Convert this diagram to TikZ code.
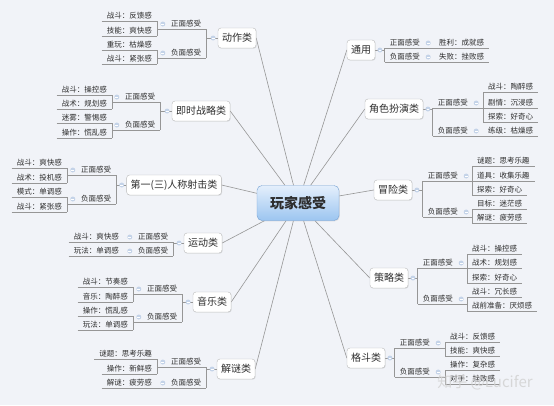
\documentclass[tikz,border=0pt]{standalone}
\usepackage{fontspec}
\usepackage{xcolor}
\usepackage{tikz}
\usetikzlibrary{shadows}
\newfontfamily\cjk{Noto Sans CJK SC}
\definecolor{bgpage}{RGB}{241,243,248}
\definecolor{linegray}{RGB}{150,150,150}
\definecolor{txtgray}{RGB}{45,45,45}
\definecolor{dotblue}{RGB}{196,211,232}
\definecolor{ctrtop}{RGB}{228,239,252}
\definecolor{ctrbot}{RGB}{156,197,240}
\definecolor{ctrline}{RGB}{118,162,212}
\pgfdeclarelayer{bg}
\pgfsetlayers{bg,main}
\tikzset{
	lnk/.style={draw=linegray, line width=0.6pt},
	dot/.style={circle, fill=dotblue, inner sep=0pt, minimum size=5pt,
		path picture={\draw[white, line width=0.6pt] ([xshift=-1.4pt]path picture bounding box.center) -- ([xshift=1.4pt]path picture bounding box.center);}},
	feel/.style={font=\cjk\fontsize{7.5}{9}\selectfont, text=txtgray, inner xsep=5pt, inner ysep=1.5pt, text height=6.2pt, text depth=1.3pt},
	leaf/.style={feel, append after command={(\tikzlastnode.south west) edge[lnk] (\tikzlastnode.south east)}},
	leafL/.style={leaf, anchor=east},
	leafR/.style={leaf, anchor=west},
	subL/.style={feel, anchor=west, label={[dot, label distance=0.5pt]west:}},
	subR/.style={feel, anchor=east, label={[dot, label distance=0.5pt]east:}},
	topic/.style={font=\cjk\fontsize{10}{12}\selectfont, text=txtgray, draw=gray!55, fill=white, rounded corners=3pt, inner xsep=4pt, minimum height=20pt,
		drop shadow={shadow xshift=0.7pt, shadow yshift=-0.7pt, opacity=0.2}},
	topicL/.style={topic, label={[dot, label distance=2pt]west:}},
	topicR/.style={topic, label={[dot, label distance=2pt]east:}},
	centre/.style={font=\cjk\fontsize{14}{16}\selectfont\bfseries, text=txtgray, top color=ctrtop, bottom color=ctrbot, draw=ctrline, rounded corners=5pt,
		minimum width=82pt, minimum height=35pt, drop shadow={shadow xshift=0.8pt, shadow yshift=-0.8pt, opacity=0.2}}
}

\begin{document}
\begin{tikzpicture}[x=1pt,y=-1pt]
		\useasboundingbox (0,0) rectangle (554,405);
		\begin{pgfonlayer}{bg}
			\fill[bgpage] (0,0) rectangle (554,405);
		\end{pgfonlayer}

		% centre
		\node at (298,203) (ctr) [centre] {玩家感受};

		% 动作类
		\node at (237,38) (tA) [topicL] {动作类};
		\node at (166,24) (dzP) [subL] {正面感受};
		\node at (166,53) (dzN) [subL] {负面感受};
		\foreach \y/\txt [count=\i] in {16/战斗：反馈感,31/技能：爽快感,45/重玩：枯燥感,59/战斗：紧张感}{
			\node at (157,\y) (dz\i) [leafL] {\txt};
		}

		% 即时战略类
		\node at (201,111) (tB) [topicL] {即时战略类};
		\node at (120,97) (zlP) [subL] {正面感受};
		\node at (120,125) (zlN) [subL] {负面感受};
		\foreach \y/\txt [count=\i] in {90/战斗：操控感,104/战术：规划感,118/迷雾：警惕感,133/操作：慌乱感}{
			\node at (112,\y) (zl\i) [leafL] {\txt};
		}

		% 第一(三)人称射击类
		\node at (174,185) (tC) [topicL] {第一(三)人称射击类};
		\node at (76,170) (sjP) [subL] {正面感受};
		\node at (76,199) (sjN) [subL] {负面感受};
		\foreach \y/\txt [count=\i] in {163/战斗：爽快感,178/战术：投机感,192/模式：单调感,207/战斗：紧张感}{
			\node at (67,\y) (sj\i) [leafL] {\txt};
		}

		% 运动类
		\node at (203,243) (tD) [topicL] {运动类};
		\node at (133,237) (ydP) [subL] {正面感受};
		\node at (133,251) (ydN) [subL] {负面感受};
		\node at (124,237) (yd1) [leafL] {战斗：爽快感};
		\node at (124,251) (yd2) [leafL] {玩法：单调感};

		% 音乐类
		\node at (212,302) (tE) [topicL] {音乐类};
		\node at (142,289) (yyP) [subL] {正面感受};
		\node at (142,317) (yyN) [subL] {负面感受};
		\foreach \y/\txt [count=\i] in {282/战斗：节奏感,297/音乐：陶醉感,311/操作：慌乱感,325/玩法：单调感}{
			\node at (133,\y) (yy\i) [leafL] {\txt};
		}

		% 解谜类
		\node at (236,369) (tF) [topicL] {解谜类};
		\node at (166,362) (jmP) [subL] {正面感受};
		\node at (166,383) (jmN) [subL] {负面感受};
		\foreach \y/\txt [count=\i] in {354/谜题：思考乐趣,369/操作：新鲜感,383/解谜：疲劳感}{
			\node at (157,\y) (jm\i) [leafL] {\txt};
		}

		% 通用
		\node at (361,50) (tG) [topicR] {通用};
		\node at (425,43) (tyP) [subR] {正面感受};
		\node at (425,57) (tyN) [subR] {负面感受};
		\node at (434,43) (ty1) [leafR] {胜利：成就感};
		\node at (434,57) (ty2) [leafR] {失败：挫败感};

		% 角色扮演类
		\node at (394,109) (tH) [topicR] {角色扮演类};
		\node at (473,103) (jsbP) [subR] {正面感受};
		\node at (473,131) (jsbN) [subR] {负面感受};
		\foreach \y/\txt [count=\i] in {87/战斗：陶醉感,103/剧情：沉浸感,117/探索：好奇心,131/练级：枯燥感}{
			\node at (483,\y) (jsb\i) [leafR] {\txt};
		}

		% 冒险类
		\node at (393,190) (tI) [topicR] {冒险类};
		\node at (463,176) (mxP) [subR] {正面感受};
		\node at (463,212) (mxN) [subR] {负面感受};
		\foreach \y/\txt [count=\i] in {161/谜题：思考乐趣,176/道具：收集乐趣,190/探索：好奇心,204/目标：迷茫感,218/解谜：疲劳感}{
			\node at (472,\y) (mx\i) [leafR] {\txt};
		}

		% 策略类
		\node at (389,278) (tJ) [topicR] {策略类};
		\node at (458,263) (clP) [subR] {正面感受};
		\node at (458,299) (clN) [subR] {负面感受};
		\foreach \y/\txt [count=\i] in {249/战斗：操控感,263/战术：规划感,278/探索：好奇心,292/战斗：冗长感,306/战前准备：厌烦感}{
			\node at (467,\y) (cl\i) [leafR] {\txt};
		}

		% 格斗类
		\node at (366,358) (tK) [topicR] {格斗类};
		\node at (435,343) (gdP) [subR] {正面感受};
		\node at (435,372) (gdN) [subR] {负面感受};
		\foreach \y/\txt [count=\i] in {337/战斗：反馈感,351/技能：爽快感,365/操作：复杂感,379/对手：挫败感}{
			\node at (445,\y) (gd\i) [leafR] {\txt};
		}

		% watermark
		\node at (485,382) (wm) [font=\cjk\fontsize{15}{18}\selectfont, text=gray!35, opacity=0.85] {知乎 @Lucifer};

		\begin{pgfonlayer}{bg}
			% centre to topics
			\foreach \t/\a in {tA/east,tB/east,tC/east,tD/east,tE/east,tF/east,tG/west,tH/west,tI/west,tJ/west,tK/west}
				\draw[lnk] (ctr) -- (\t.\a);

			% left side
			\draw[lnk] (dz1.south east) -- (dz2.south east);
			\draw[lnk] (dz1.south east |- dzP.south) -- (dzP.south east);
			\draw[lnk] (dz3.south east) -- (dz4.south east);
			\draw[lnk] (dz3.south east |- dzN.south) -- (dzN.south east);
			\draw[lnk] (dzP.south east) -- (dzN.south east);
			\draw[lnk] (dzP.south east |- tA) -- (tA);

			\draw[lnk] (zl1.south east) -- (zl2.south east);
			\draw[lnk] (zl1.south east |- zlP.south) -- (zlP.south east);
			\draw[lnk] (zl3.south east) -- (zl4.south east);
			\draw[lnk] (zl3.south east |- zlN.south) -- (zlN.south east);
			\draw[lnk] (zlP.south east) -- (zlN.south east);
			\draw[lnk] (zlP.south east |- tB) -- (tB);

			\draw[lnk] (sj1.south east) -- (sj2.south east);
			\draw[lnk] (sj1.south east |- sjP.south) -- (sjP.south east);
			\draw[lnk] (sj3.south east) -- (sj4.south east);
			\draw[lnk] (sj3.south east |- sjN.south) -- (sjN.south east);
			\draw[lnk] (sjP.south east) -- (sjN.south east);
			\draw[lnk] (sjP.south east |- tC) -- (tC);

			\draw[lnk] (yd1.south east) -- (ydP.south east);
			\draw[lnk] (yd2.south east) -- (ydN.south east);
			\draw[lnk] (ydP.south east) -- (ydN.south east);
			\draw[lnk] (ydP.south east |- tD) -- (tD);

			\draw[lnk] (yy1.south east) -- (yy2.south east);
			\draw[lnk] (yy1.south east |- yyP.south) -- (yyP.south east);
			\draw[lnk] (yy3.south east) -- (yy4.south east);
			\draw[lnk] (yy3.south east |- yyN.south) -- (yyN.south east);
			\draw[lnk] (yyP.south east) -- (yyN.south east);
			\draw[lnk] (yyP.south east |- tE) -- (tE);

			\draw[lnk] (jm1.south east) -- (jm2.south east);
			\draw[lnk] (jm1.south east |- jmP.south) -- (jmP.south east);
			\draw[lnk] (jm3.south east) -- (jmN.south east);
			\draw[lnk] (jmP.south east) -- (jmN.south east);
			\draw[lnk] (jmP.south east |- tF) -- (tF);

			% right side
			\draw[lnk] (tyP.south west) -- (ty1.south west);
			\draw[lnk] (tyN.south west) -- (ty2.south west);
			\draw[lnk] (tyP.south west) -- (tyN.south west);
			\draw[lnk] (tG) -- (tyP.south west |- tG);

			\draw[lnk] (jsb1.south west) -- (jsb3.south west);
			\draw[lnk] (jsbP.south west) -- (jsb1.south west |- jsbP.south);
			\draw[lnk] (jsbN.south west) -- (jsb4.south west);
			\draw[lnk] (jsbP.south west) -- (jsbN.south west);
			\draw[lnk] (tH) -- (jsbP.south west |- tH);

			\draw[lnk] (mx1.south west) -- (mx3.south west);
			\draw[lnk] (mxP.south west) -- (mx1.south west |- mxP.south);
			\draw[lnk] (mx4.south west) -- (mx5.south west);
			\draw[lnk] (mxN.south west) -- (mx4.south west |- mxN.south);
			\draw[lnk] (mxP.south west) -- (mxN.south west);
			\draw[lnk] (tI) -- (mxP.south west |- tI);

			\draw[lnk] (cl1.south west) -- (cl3.south west);
			\draw[lnk] (clP.south west) -- (cl1.south west |- clP.south);
			\draw[lnk] (cl4.south west) -- (cl5.south west);
			\draw[lnk] (clN.south west) -- (cl4.south west |- clN.south);
			\draw[lnk] (clP.south west) -- (clN.south west);
			\draw[lnk] (tJ) -- (clP.south west |- tJ);

			\draw[lnk] (gd1.south west) -- (gd2.south west);
			\draw[lnk] (gdP.south west) -- (gd1.south west |- gdP.south);
			\draw[lnk] (gd3.south west) -- (gd4.south west);
			\draw[lnk] (gdN.south west) -- (gd3.south west |- gdN.south);
			\draw[lnk] (gdP.south west) -- (gdN.south west);
			\draw[lnk] (tK) -- (gdP.south west |- tK);
		\end{pgfonlayer}
	\end{tikzpicture}
\end{document}
